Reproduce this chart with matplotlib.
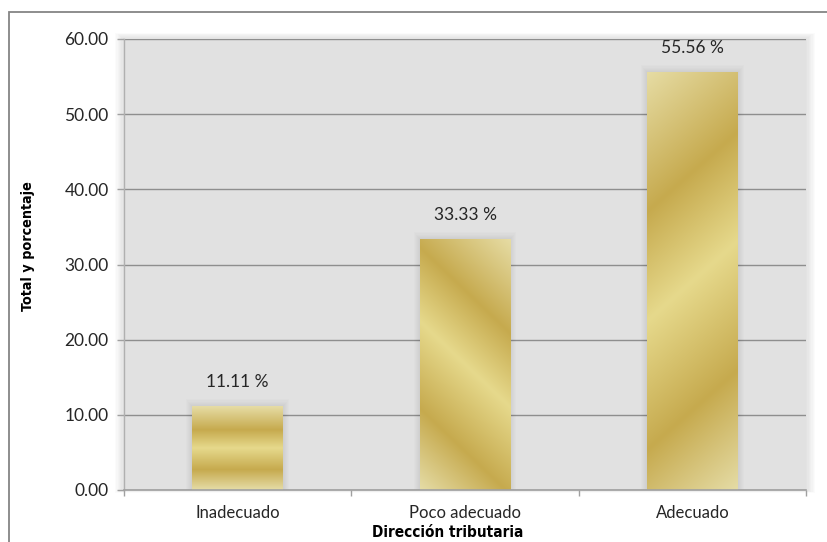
import numpy as np
import matplotlib
matplotlib.use("Agg")
import matplotlib.pyplot as plt
from matplotlib.patches import Rectangle
from matplotlib.colors import to_rgb

# ---- data ----
categories = ["Inadecuado", "Poco adecuado", "Adecuado"]
values = [11.11, 33.33, 55.56]
value_labels = ["11.11 %", "33.33 %", "55.56 %"]
yticks = [0, 10, 20, 30, 40, 50, 60]
ytick_labels = ["0.00", "10.00", "20.00", "30.00", "40.00", "50.00", "60.00"]
x_title = "Dirección tributaria"
y_title = "Total y porcentaje"

# ---- style ----
W, H, DPI = 827, 542, 100
plot_bg = "#e1e1e1"
grid_col = "#8e8e8e"
text_col = "#262626"
stops_pos = [0.0, 0.28, 0.5, 0.76, 1.0]
stops_col = ["#e6dca4", "#c6aa4e", "#e6d98c", "#c6aa4e", "#e5dca6"]
directions = [("v", 0.0), ("d", -0.95), ("d", 0.88)]

plt.rcParams["font.family"] = ["Lato", "DejaVu Sans"]

fig = plt.figure(figsize=(W / DPI, H / DPI), dpi=DPI)
fig.patch.set_facecolor("white")

fig.patches.append(Rectangle((9 / W, -0.1), 1.2, (H - 12) / H + 0.1,
                             transform=fig.transFigure, fill=False,
                             edgecolor="#858585", linewidth=1.3, zorder=0))

l, r, t, b = 124, 806, 39, 490
ax = fig.add_axes([l / W, (H - b) / H, (r - l) / W, (b - t) / H])
ax.set_facecolor(plot_bg)
ax.set_zorder(2)

for i in range(1, 8):
    pad = i * 1.3
    fig.patches.append(Rectangle(((l - pad) / W, (H - b - pad * 0.3) / H),
                                 (r - l + 2 * pad) / W, (b - t + pad * 1.0) / H,
                                 transform=fig.transFigure, facecolor="black",
                                 edgecolor="none", alpha=0.015, zorder=1))

x = np.arange(len(categories))
bars = ax.bar(x, values, width=0.4, color="none", edgecolor="none", zorder=3)

ax.set_xlim(-0.5, len(categories) - 0.5)
ax.set_ylim(yticks[0], yticks[-1])
ax.set_yticks(yticks)
ax.set_yticklabels(ytick_labels, fontsize=12.5, color=text_col)
ax.set_xticks(x)
ax.set_xticklabels(categories, fontsize=12, color=text_col)
ax.set_xticks(np.arange(-0.5, len(categories)), minor=True)
ax.tick_params(axis="x", which="major", length=0, pad=11)
ax.tick_params(axis="x", which="minor", length=4, color="#a0a0a0", width=1)
ax.tick_params(axis="y", length=5, color="#a0a0a0", width=1, pad=6)
ax.grid(axis="y", color=grid_col, linewidth=1.0, zorder=1)
ax.set_axisbelow(True)
for s in ["top", "right"]:
    ax.spines[s].set_visible(False)
ax.spines["left"].set_color("#b0b0b0")
ax.spines["bottom"].set_color("#a0a0a0")
ax.spines["left"].set_linewidth(1.0)
ax.spines["bottom"].set_linewidth(1.2)
ax.spines["left"].set_zorder(5)
ax.spines["bottom"].set_zorder(5)

ax.set_ylabel(y_title, fontsize=10.3, fontweight="bold", family="DejaVu Sans",
              fontstretch="condensed", color="black")
ax.set_xlabel(x_title, fontsize=11, fontweight="bold", family="DejaVu Sans",
              fontstretch="condensed", color="black")
ax.xaxis.set_label_coords(0.475, -0.077)
ax.yaxis.set_label_coords(-0.13, 0.54)

fig.canvas.draw()

pos_ = np.array(stops_pos)
cols_ = np.array([to_rgb(c) for c in stops_col])


def gold(u):
    u = np.clip(u, 0, 1)
    out = np.zeros(u.shape + (3,))
    for ch in range(3):
        out[..., ch] = np.interp(u, pos_, cols_[:, ch])
    return out


for bar, (kind, k) in zip(bars, directions):
    x0, y0 = bar.get_x(), bar.get_y()
    x1, y1 = x0 + bar.get_width(), y0 + bar.get_height()
    (px0, py0) = ax.transData.transform((x0, y0))
    (px1, py1) = ax.transData.transform((x1, y1))
    wpx = max(int(round(px1 - px0)), 2)
    hpx = max(int(round(py1 - py0)), 2)
    xx, yy = np.meshgrid(np.arange(wpx), np.arange(hpx))
    if kind == "v":
        u = yy / (hpx - 1)
    else:
        s = yy + k * xx
        u = (s - s.min()) / (s.max() - s.min())
    img = gold(u)
    for i in range(1, 7):
        d = i * 1.0
        (dx0, dy0) = ax.transData.inverted().transform((px0 - d, py0))
        (dx1, dy1) = ax.transData.inverted().transform((px1 + d, py1 + d * 1.2))
        ax.add_patch(Rectangle((dx0, dy0), dx1 - dx0, dy1 - dy0,
                               facecolor="black", edgecolor="none",
                               alpha=0.012, zorder=2))
    ax.imshow(img, extent=(x0, x1, y0, y1), origin="upper",
              aspect="auto", zorder=3, interpolation="bilinear")

ax.set_xlim(-0.5, len(categories) - 0.5)
ax.set_ylim(yticks[0], yticks[-1])

for xi, v, lab in zip(x, values, value_labels):
    ax.annotate(lab, (xi, v), xytext=(0, 12), textcoords="offset points",
                ha="center", va="bottom", fontsize=12.5, color=text_col,
                zorder=6)

fig.savefig("out.png", dpi=DPI, facecolor="white")
